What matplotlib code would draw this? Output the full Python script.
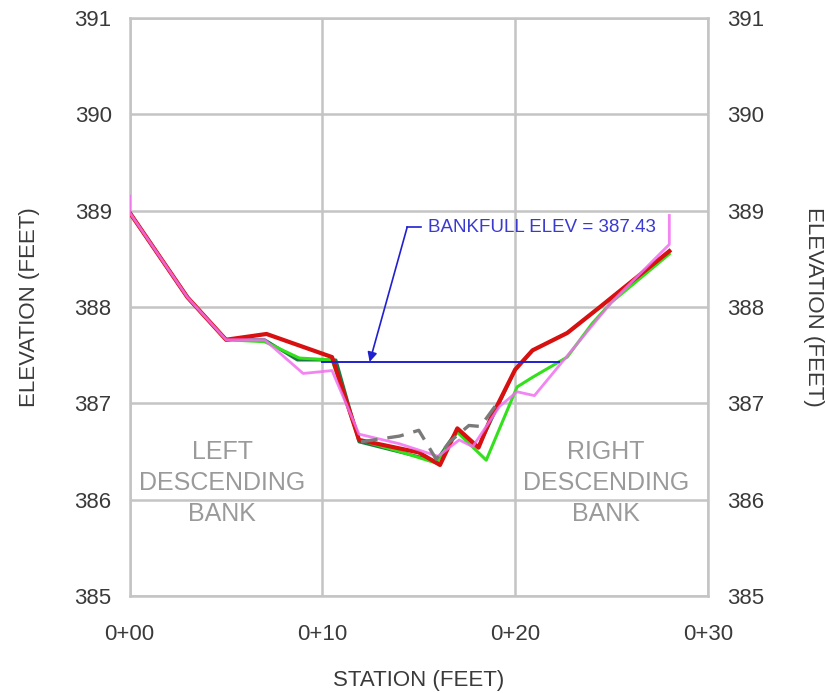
import matplotlib
matplotlib.use('Agg')
import matplotlib.pyplot as plt

plt.rcParams['font.family'] = ['Liberation Sans', 'DejaVu Sans']

# survey stations (feet) and ground elevations (feet) for each cross-section
sta_pink = [0.0, 0.0, 3.0, 5.0, 7.0, 9.0, 10.5, 11.9, 14.0, 16.0, 17.1, 17.8, 19.2, 20.1, 21.0, 25.0, 28.0, 28.0]
elev_pink = [389.15, 388.98, 388.1, 387.66, 387.66, 387.31, 387.34, 386.68, 386.58, 386.45, 386.62, 386.55, 386.97, 387.12, 387.08, 388.05, 388.65, 388.95]

sta_green = [0.0, 3.0, 5.0, 7.0, 8.8, 10.5, 11.9, 14.0, 15.9, 17.0, 18.5, 20.1, 20.9, 22.7, 24.0, 25.0, 28.0]
elev_green = [388.98, 388.1, 387.66, 387.64, 387.47, 387.45, 386.62, 386.5, 386.38, 386.7, 386.41, 387.17, 387.27, 387.48, 387.83, 388.05, 388.55]

sta_dkgreen = [0.0, 3.0, 5.0, 7.0, 8.7, 10.7, 11.9, 15.9, 17.0, 18.1, 20.0, 20.9, 22.7, 24.4, 28.0]
elev_dkgreen = [388.98, 388.1, 387.66, 387.66, 387.45, 387.45, 386.6, 386.4, 386.72, 386.55, 387.35, 387.55, 387.73, 388.0, 388.58]

sta_red = [0.0, 3.0, 5.0, 7.1, 10.5, 11.9, 15.0, 16.1, 17.0, 18.1, 18.7, 20.0, 20.9, 22.7, 24.4, 28.0]
elev_red = [388.98, 388.1, 387.66, 387.72, 387.48, 386.62, 386.49, 386.36, 386.74, 386.54, 386.83, 387.35, 387.55, 387.73, 388.0, 388.58]

sta_gray = [12.0, 14.0, 15.0, 15.9, 16.6, 17.6, 18.2, 19.0]
elev_gray = [386.6, 386.66, 386.72, 386.42, 386.6, 386.77, 386.76, 386.98]

bankfull = 387.43
bankfull_sta = [10.0, 22.3]

x_ticks = [0, 10, 20, 30]
x_labels = ['0+00', '0+10', '0+20', '0+30']
y_ticks = [385, 386, 387, 388, 389, 390, 391]

tick_color = '#3a3a3a'
grid_color = '#c4c4c4'

fig = plt.figure(figsize=(8.26, 6.93), dpi=100)
ax = fig.add_axes([0.157, 0.140, 0.700, 0.834])

ax.plot(sta_dkgreen, elev_dkgreen, color='#1c7a44', lw=2.2, zorder=3)
ax.plot(sta_green, elev_green, color='#33e01c', lw=2.2, zorder=4)
ax.plot(sta_red, elev_red, color='#d81010', lw=3.0, zorder=5)
ax.plot(sta_pink, elev_pink, color='#f070f0', lw=2.0, alpha=0.85, zorder=6)
ax.plot(sta_gray, elev_gray, color='#7a7a7a', lw=2.4, ls=(0, (5, 3)), zorder=7)

# bankfull line and its callout
ax.plot(bankfull_sta, [bankfull, bankfull], color='#2020d0', lw=1.4, zorder=8)
ax.plot([14.4, 15.1], [388.83, 388.83], color='#2020d0', lw=1.2, zorder=8)
ax.annotate('', xy=(12.45, bankfull), xytext=(14.4, 388.83),
            arrowprops=dict(arrowstyle='-|>', color='#2020d0', lw=1.2,
                            mutation_scale=14, shrinkA=0, shrinkB=0), zorder=8)
ax.text(15.5, 388.83, 'BANKFULL ELEV = {:.2f}'.format(bankfull), color='#3a3ad0',
        fontsize=13.5, va='center', ha='left', zorder=9)

ax.text(4.8, 386.17, 'LEFT\nDESCENDING\nBANK', color='#9a9a9a', fontsize=18,
        ha='center', va='center', linespacing=1.38)
ax.text(24.7, 386.17, 'RIGHT\nDESCENDING\nBANK', color='#9a9a9a', fontsize=18,
        ha='center', va='center', linespacing=1.38)

ax.set_xlim(0, 30)
ax.set_ylim(385, 391)
ax.set_xticks(x_ticks)
ax.set_xticklabels(x_labels)
ax.set_yticks(y_ticks)
ax.grid(True, color=grid_color, lw=1.8)
ax.set_axisbelow(True)
for sp in ax.spines.values():
    sp.set_color(grid_color)
    sp.set_linewidth(1.8)
ax.tick_params(axis='x', length=0, pad=20, labelsize=16, colors=tick_color)
ax.tick_params(axis='y', length=0, pad=13, labelsize=16, colors=tick_color)
ax.set_xlabel('STATION (FEET)', fontsize=16, color=tick_color, labelpad=18)
ax.set_ylabel('ELEVATION (FEET)', fontsize=16, color=tick_color, labelpad=25)

ax2 = ax.twinx()
ax2.set_ylim(385, 391)
ax2.set_yticks(y_ticks)
for sp in ax2.spines.values():
    sp.set_visible(False)
ax2.tick_params(axis='y', length=0, pad=14, labelsize=16, colors=tick_color)
ax2.set_ylabel('ELEVATION (FEET)', fontsize=16, color=tick_color, rotation=270, labelpad=43)

fig.savefig('out.png', dpi=100, facecolor='white')
